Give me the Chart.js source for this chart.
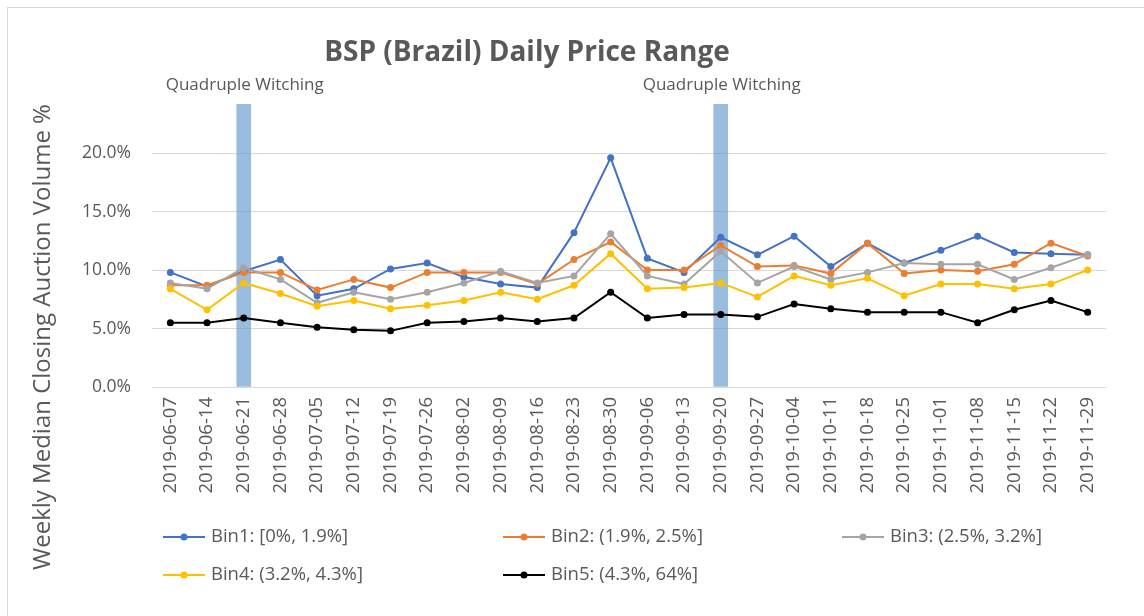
<!DOCTYPE html>
<html>
<head>
<meta charset="utf-8">
<script src="https://cdn.jsdelivr.net/npm/chart.js@4.4.1/dist/chart.umd.min.js"></script>
<style>
  html, body { margin: 0; padding: 0; background: #fff; }
  #wrap { width: 1144px; height: 616px; }
</style>
</head>
<body>
<div id="wrap"><canvas id="chart" width="1144" height="616"></canvas></div>
<script>
// dados
const weeks = ['2019-06-07','2019-06-14','2019-06-21','2019-06-28','2019-07-05','2019-07-12','2019-07-19',
  '2019-07-26','2019-08-02','2019-08-09','2019-08-16','2019-08-23','2019-08-30','2019-09-06','2019-09-13',
  '2019-09-20','2019-09-27','2019-10-04','2019-10-11','2019-10-18','2019-10-25','2019-11-01','2019-11-08',
  '2019-11-15','2019-11-22','2019-11-29'];

const bin1 = [9.8, 8.6, 9.9, 10.9, 7.8, 8.4, 10.1, 10.6, 9.4, 8.8, 8.5, 13.2, 19.6, 11.0, 9.8, 12.8, 11.3, 12.9, 10.3, 12.3, 10.6, 11.7, 12.9, 11.5, 11.4, 11.3];
const bin2 = [8.7, 8.7, 9.8, 9.8, 8.3, 9.2, 8.5, 9.8, 9.8, 9.8, 8.8, 10.9, 12.4, 10.0, 10.0, 12.1, 10.3, 10.4, 9.7, 12.3, 9.7, 10.0, 9.9, 10.5, 12.3, 11.2];
const bin3 = [8.9, 8.4, 10.2, 9.2, 7.2, 8.1, 7.5, 8.1, 8.9, 9.9, 8.9, 9.5, 13.1, 9.5, 8.8, 11.6, 8.9, 10.3, 9.2, 9.8, 10.6, 10.5, 10.5, 9.2, 10.2, 11.3];
const bin4 = [8.4, 6.6, 8.9, 8.0, 6.9, 7.4, 6.7, 7.0, 7.4, 8.1, 7.5, 8.7, 11.4, 8.4, 8.5, 8.9, 7.7, 9.5, 8.7, 9.3, 7.8, 8.8, 8.8, 8.4, 8.8, 10.0];
const bin5 = [5.5, 5.5, 5.9, 5.5, 5.1, 4.9, 4.8, 5.5, 5.6, 5.9, 5.6, 5.9, 8.1, 5.9, 6.2, 6.2, 6.0, 7.1, 6.7, 6.4, 6.4, 6.4, 5.5, 6.6, 7.4, 6.4];

const binLabels = ['Bin1: [0%, 1.9%]', 'Bin2: (1.9%, 2.5%]', 'Bin3: (2.5%, 3.2%]', 'Bin4: (3.2%, 4.3%]', 'Bin5: (4.3%, 64%]'];
const binColors = ['#4472C4', '#ED7D31', '#A5A5A5', '#FFC000', '#000000'];

// semanas de quadruple witching
const witchingWeeks = ['2019-06-21', '2019-09-20'];
const witchingLabel = 'Quadruple Witching';
const witchingTop = 24.2;

const yTicks = [0, 5, 10, 15, 20];

const textColor = '#595959';
const fontFamily = '"Open Sans", "Liberation Sans", sans-serif';

const witchingData = weeks.map(w => witchingWeeks.includes(w) ? witchingTop : null);

const seriesData = [bin1, bin2, bin3, bin4, bin5];
const lineSets = seriesData.map((d, i) => ({
    type: 'line',
    label: binLabels[i],
    data: d,
    borderColor: binColors[i],
    backgroundColor: binColors[i],
    borderWidth: 2,
    pointRadius: 3.5,
    pointHoverRadius: 3.5,
    pointBorderWidth: 0,
    fill: false,
    tension: 0,
    order: 5 - i
}));

// plugin para título, eixo, rótulos e legenda no estilo do Excel
const decorPlugin = {
    id: 'decor',
    beforeDraw(chart) {
        const c = chart.ctx;
        c.save();
        c.strokeStyle = '#d9d9d9';
        c.lineWidth = 1;
        c.strokeRect(7.5, 7.5, 1200, 700);
        c.restore();
    },
    afterDraw(chart) {
        const c = chart.ctx;
        const xs = chart.scales.x;
        c.save();
        c.fillStyle = textColor;

        // título
        c.font = 'bold 28px ' + fontFamily;
        c.textAlign = 'center';
        c.textBaseline = 'middle';
        c.fillText('BSP (Brazil) Daily Price Range', 527, 53);

        // rótulos quadruple witching
        c.font = '17px ' + fontFamily;
        witchingWeeks.forEach(w => {
            const x = xs.getPixelForValue(weeks.indexOf(w));
            c.fillText(witchingLabel, x + 1, 85);
        });

        // título do eixo y
        c.save();
        c.translate(43, 337);
        c.rotate(-Math.PI / 2);
        c.font = '24px ' + fontFamily;
        c.fillText('Weekly Median Closing Auction Volume %', 0, 0);
        c.restore();

        // legenda
        const cols = [163, 503, 842];
        const rows = [537, 575];
        c.font = '18.5px ' + fontFamily;
        c.textAlign = 'left';
        binLabels.forEach((lab, i) => {
            const x = cols[i % 3];
            const y = rows[Math.floor(i / 3)];
            c.strokeStyle = binColors[i];
            c.lineWidth = 2;
            c.beginPath();
            c.moveTo(x, y);
            c.lineTo(x + 42, y);
            c.stroke();
            c.fillStyle = binColors[i];
            c.beginPath();
            c.arc(x + 21, y, 3.5, 0, Math.PI * 2);
            c.fill();
            c.fillStyle = textColor;
            c.fillText(lab, x + 48, y);
        });
        c.restore();
    }
};

const ctx = document.getElementById('chart').getContext('2d');
new Chart(ctx, {
    data: {
        labels: weeks,
        datasets: [
            ...lineSets,
            {
                type: 'bar',
                label: witchingLabel,
                data: witchingData,
                backgroundColor: 'rgba(100, 152, 204, 0.65)',
                borderWidth: 0,
                barThickness: 14,
                order: 10
            }
        ]
    },
    options: {
        responsive: false,
        animation: false,
        events: [],
        layout: { padding: { top: 104, right: 38, left: 0, bottom: 0 } },
        plugins: {
            legend: { display: false },
            title: { display: false },
            tooltip: { enabled: false }
        },
        scales: {
            x: {
                grid: { display: false, drawTicks: false },
                border: { display: false },
                ticks: {
                    color: textColor,
                    font: { family: fontFamily, size: 18.5 },
                    minRotation: 90,
                    maxRotation: 90,
                    autoSkip: false,
                    padding: 10
                },
                afterFit(scale) { scale.height = 616 - 387; }
            },
            y: {
                min: 0,
                max: witchingTop,
                afterBuildTicks(scale) { scale.ticks = yTicks.map(v => ({ value: v })); },
                grid: { color: '#d9d9d9', lineWidth: 1, drawTicks: false },
                border: { display: false },
                ticks: {
                    color: textColor,
                    font: { family: fontFamily, size: 17.5 },
                    padding: 21,
                    callback: v => v.toFixed(1) + '%'
                },
                afterFit(scale) { scale.width = 152; }
            }
        }
    },
    plugins: [decorPlugin]
});
</script>
</body>
</html>
